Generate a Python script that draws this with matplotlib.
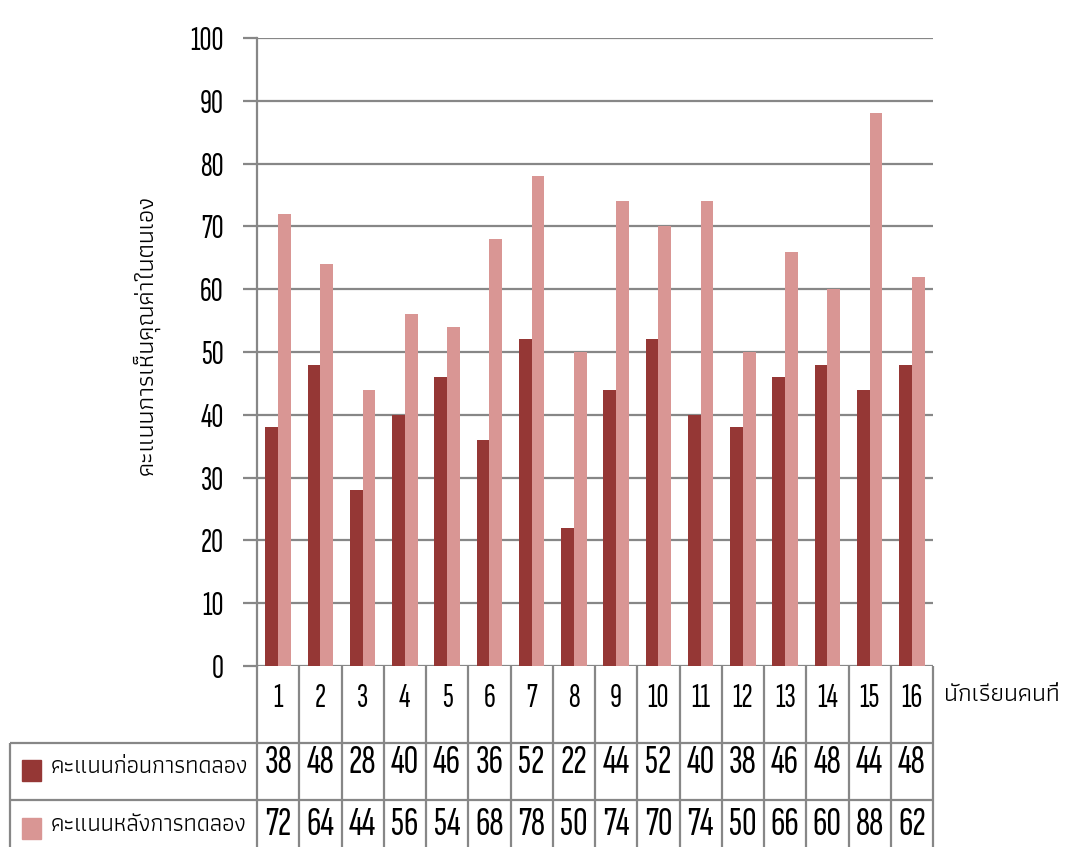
import matplotlib
matplotlib.use("Agg")
import matplotlib.pyplot as plt
from matplotlib.patches import Rectangle
import numpy as np

# ---- data ----
students = [str(i) for i in range(1, 17)]
before = [38, 48, 28, 40, 46, 36, 52, 22, 44, 52, 40, 38, 46, 48, 44, 48]
after = [72, 64, 44, 56, 54, 68, 78, 50, 74, 70, 74, 50, 66, 60, 88, 62]
series_names = ["คะแนนก่อนการทดลอง", "คะแนนหลังการทดลอง"]
y_label = "คะแนนการเห็นคุณค่าในตนเอง"
x_label = "นักเรียนคนที่"
y_ticks = list(range(0, 101, 10))

DARK = "#953735"
LIGHT = "#D99694"
GRID = "#878787"
NUM_FONT = ["Sofia Sans Extra Condensed", "Roboto Condensed", "DejaVu Sans"]
THAI_FONT = ["Athiti", "Noto Sans Thai", "DejaVu Sans"]

W, H = 1066, 847
fig = plt.figure(figsize=(W / 100, H / 100), dpi=100)

def fx(px):
    return px / W

def fy(py):
    return 1 - py / H

ax_l, ax_r, ax_t, ax_b = 257, 933, 38, 666
ax = fig.add_axes([fx(ax_l), fy(ax_b), fx(ax_r - ax_l), (ax_b - ax_t) / H])
n = len(students)
x = np.arange(1, n + 1)
bw = 0.30
ax.bar(x - bw / 2, before, width=bw, color=DARK, zorder=3)
ax.bar(x + bw / 2, after, width=bw, color=LIGHT, zorder=3)
ax.set_xlim(0.5, n + 0.5)
ax.set_ylim(0, 100)
ax.set_yticks(y_ticks)
ax.set_yticklabels([str(t) for t in y_ticks], family=NUM_FONT, fontsize=24)
ax.set_xticks([])
ax.yaxis.grid(True, color=GRID, linewidth=1.6, zorder=0)
ax.tick_params(axis="y", length=10, width=1.6, color=GRID, pad=14)
for s in ["top", "right", "bottom"]:
    ax.spines[s].set_visible(False)
ax.spines["left"].set_color(GRID)
ax.spines["left"].set_linewidth(1.6)
ax.set_ylabel(y_label, family=THAI_FONT, fontsize=18)
ax.yaxis.set_label_coords((160 - ax_l) / (ax_r - ax_l), (ax_b - 335) / (ax_b - ax_t))

# ---- data table below the axes (same x scale for columns) ----
col_w = (ax_r - ax_l) / n
tab_l, tab_t, tab_b = 10, 666, 847
left_units = (ax_l - tab_l) / col_w
tax = fig.add_axes([fx(tab_l), 0, fx(ax_r - tab_l), fy(tab_t)])
tax.set_xlim(0.5 - left_units, n + 0.5)
tax.set_ylim(tab_b, tab_t)
tax.axis("off")
row1, row2 = 743, 800
lc = dict(color=GRID, linewidth=1.6, solid_capstyle="butt")
for b in np.arange(0.5, n + 1.0, 1.0):
    tax.plot([b, b], [tab_t, tab_b], **lc, clip_on=False)
tax.plot([0.5 - left_units] * 2, [row1, tab_b + 5], **lc, clip_on=False)
for yy in [row1, row2]:
    tax.plot([0.5 - left_units, n + 0.5], [yy, yy], **lc, clip_on=False)
for xi, lab in zip(x, students):
    tax.text(xi, 698, lab, ha="center", va="center", family=NUM_FONT, fontsize=24)
for xi, v in zip(x, before):
    tax.text(xi, 763, str(v), ha="center", va="center", family=NUM_FONT, fontsize=29)
for xi, v in zip(x, after):
    tax.text(xi, 825, str(v), ha="center", va="center", family=NUM_FONT, fontsize=29)
sq = 20 / col_w
for yc, name, col in [(770, series_names[0], DARK), (828, series_names[1], LIGHT)]:
    x0 = 0.5 - left_units + 11.5 / col_w
    tax.add_patch(Rectangle((x0, yc - 10.5), sq, 21, color=col, clip_on=False))
    tax.text(0.5 - left_units + 41 / col_w, yc - 3, name, ha="left", va="center",
             family=THAI_FONT, fontsize=17)
fig.text(fx(944), fy(695), x_label, ha="left", va="center", family=THAI_FONT, fontsize=18)

fig.savefig("out.png", dpi=100)
